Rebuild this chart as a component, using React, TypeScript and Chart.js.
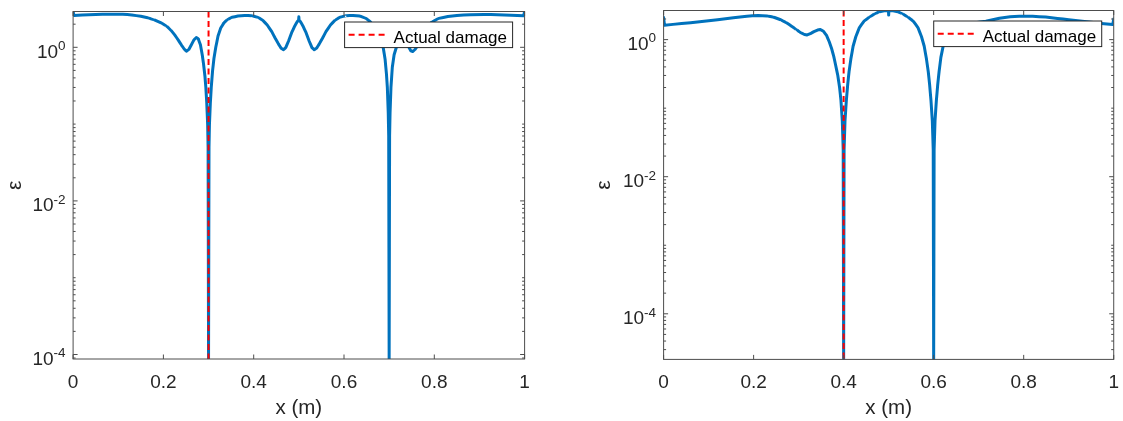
import React, { useEffect, useRef } from 'react';
import { Chart, registerables } from 'chart.js';

Chart.register(...registerables);

// ---------------- data ----------------
const leftX = [
  0, 0.002, 0.02, 0.05, 0.08, 0.11, 0.13, 0.15, 0.165, 0.18, 0.195, 0.207, 0.217, 0.225, 0.233, 0.24,
  0.246, 0.251, 0.256, 0.262, 0.268, 0.273, 0.277, 0.282, 0.286, 0.289, 0.292, 0.294, 0.296, 0.298,
  0.299, 0.3, 0.301, 0.302, 0.304, 0.306, 0.309, 0.312, 0.316, 0.321, 0.327, 0.334,
  0.342, 0.352, 0.365, 0.38, 0.395, 0.41, 0.42, 0.43, 0.44, 0.448, 0.455, 0.461, 0.466, 0.471, 0.477,
  0.484, 0.491, 0.497, 0.4995, 0.5, 0.5005, 0.503, 0.509, 0.516, 0.523, 0.529, 0.534, 0.539, 0.545,
  0.552, 0.56, 0.57, 0.58, 0.59, 0.605, 0.62, 0.635, 0.648, 0.658, 0.667, 0.675, 0.682, 0.687, 0.691,
  0.694, 0.696, 0.698, 0.699, 0.7, 0.701, 0.702, 0.704, 0.707, 0.711, 0.716, 0.722,
  0.729, 0.736, 0.743, 0.748, 0.752, 0.757, 0.763, 0.772, 0.782, 0.795, 0.81, 0.83, 0.85, 0.88, 0.91,
  0.94, 0.97, 0.998, 1,
];
const leftY = [
  2.92, 2.6, 2.63, 2.68, 2.7, 2.69, 2.64, 2.53, 2.42, 2.28, 2.08, 1.89, 1.66, 1.45, 1.24, 1.07,
  0.95, 0.89, 0.93, 1.08, 1.26, 1.34, 1.3, 1.08, 0.8, 0.6, 0.42, 0.3, 0.19, 0.1,
  0.05, 8.74e-5, 0.05, 0.1, 0.19, 0.3, 0.5, 0.72, 1.0, 1.4, 1.78, 2.08,
  2.3, 2.46, 2.55, 2.6, 2.58, 2.45, 2.25, 1.95, 1.6, 1.3, 1.1, 0.97, 0.93, 0.99, 1.2,
  1.55, 1.9, 2.18, 2.25, 2.5, 2.25, 2.18, 1.9, 1.55, 1.2, 0.99, 0.93, 0.97, 1.1,
  1.3, 1.6, 1.95, 2.25, 2.45, 2.58, 2.6, 2.55, 2.4, 2.15, 1.85, 1.5, 1.2, 0.98, 0.7,
  0.45, 0.3, 0.14, 0.07, 8.74e-5, 0.07, 0.14, 0.3, 0.55, 0.8, 1.0, 1.18,
  1.25, 1.2, 1.02, 0.9, 0.88, 0.93, 1.05, 1.4, 1.8, 2.15, 2.38, 2.52, 2.6, 2.66, 2.68,
  2.66, 2.62, 2.58, 2.92,
];

const rightX = [
  0, 0.002, 0.04, 0.08, 0.12, 0.155, 0.185, 0.21, 0.23, 0.245, 0.26, 0.273, 0.285, 0.295, 0.305,
  0.313, 0.319, 0.326, 0.334, 0.342, 0.348, 0.355, 0.362, 0.368, 0.373, 0.378, 0.382, 0.387, 0.391,
  0.394, 0.397, 0.399, 0.4, 0.401, 0.403, 0.406, 0.409, 0.412, 0.416, 0.421, 0.427, 0.435, 0.445,
  0.458, 0.47, 0.48, 0.49, 0.4995, 0.5, 0.5005, 0.51, 0.52, 0.53, 0.542, 0.555, 0.565, 0.573, 0.579,
  0.584, 0.588, 0.591, 0.594, 0.597, 0.599, 0.6, 0.601, 0.603, 0.606, 0.609, 0.612, 0.616, 0.621,
  0.628, 0.638, 0.652, 0.67, 0.69, 0.716, 0.746, 0.77, 0.79, 0.82, 0.849, 0.875, 0.9, 0.93, 0.96,
  0.985, 0.998, 1,
];
const rightY = [
  2.1, 1.62, 1.72, 1.82, 1.95, 2.08, 2.2, 2.25, 2.22, 2.12, 1.95, 1.76, 1.56, 1.4, 1.26,
  1.19, 1.17, 1.22, 1.31, 1.38, 1.4, 1.33, 1.15, 0.93, 0.75, 0.57, 0.43, 0.3, 0.2,
  0.13, 0.065, 0.025, 2.16e-5, 0.025, 0.065, 0.13, 0.22, 0.34, 0.52, 0.8, 1.1, 1.5, 1.85,
  2.15, 2.4, 2.55, 2.63, 2.66, 2.28, 2.66, 2.63, 2.55, 2.4, 2.15, 1.85, 1.5, 1.1, 0.8,
  0.52, 0.34, 0.22, 0.13, 0.065, 0.025, 2.16e-5, 0.025, 0.065, 0.13, 0.22, 0.34, 0.55, 0.8,
  1.05, 1.3, 1.5, 1.65, 1.75, 1.86, 2.05, 2.15, 2.2, 2.19, 2.13, 2.04, 1.95, 1.85, 1.76,
  1.69, 1.66, 2.0,
];

const leftDamageX = 0.3;
const rightDamageX = 0.4;
const leftYLimits = [8.74e-5, 2.925];
const rightYLimits = [2.16e-5, 2.66];
const xTickValues = [0, 0.2, 0.4, 0.6, 0.8, 1];
const yTickValues = [1e-4, 1e-2, 1];
const yTickExponents = ['-4', '-2', '0'];
const legendText = 'Actual damage';
const xTitleText = 'x (m)';
const yTitleText = 'ε';

// ---------------- styling ----------------
const FONT = '"Liberation Sans", Arial, Helvetica, sans-serif';
const TEXT = '#262626';
const AXIS = '#4d4d4d';
const BLUE = '#0072bd';
const RED = '#ff0000';
const H = 421;

type Panel = {
  width: number;
  plotLeft: number;
  plotRight: number;
  plotTop: number;
  plotBottom: number;
  yTitleCenter: number;
};

const leftPanel: Panel = { width: 560, plotLeft: 73.1, plotRight: 524.6, plotTop: 11.5, plotBottom: 359, yTitleCenter: 15 };
const rightPanel: Panel = { width: 563, plotLeft: 103.6, plotRight: 554.7, plotTop: 10.5, plotBottom: 359.4, yTitleCenter: 44 };

const decorPlugin = {
  id: 'matlabDecor',
  afterDraw(chart: any) {
    const { ctx, chartArea: a } = chart;
    const xs = chart.scales.x;
    const ys = chart.scales.y;
    const L = a.left, R = a.right, T = a.top, B = a.bottom;
    ctx.save();
    // box
    ctx.strokeStyle = AXIS;
    ctx.lineWidth = 1;
    ctx.setLineDash([]);
    ctx.strokeRect(L, T, R - L, B - T);
    // ticks
    ctx.beginPath();
    for (const v of xTickValues) {
      const px = xs.getPixelForValue(v);
      ctx.moveTo(px, B); ctx.lineTo(px, B - 4.5);
      ctx.moveTo(px, T); ctx.lineTo(px, T + 4.5);
    }
    const isMajor = (v: number) => yTickValues.some((m) => Math.abs(v - m) / m < 1e-6);
    for (const v of yTickValues) {
      const py = ys.getPixelForValue(v);
      ctx.moveTo(L, py); ctx.lineTo(L + 4.5, py);
      ctx.moveTo(R, py); ctx.lineTo(R - 4.5, py);
    }
    const lo = Math.floor(Math.log10(ys.min));
    const hi = Math.ceil(Math.log10(ys.max));
    for (let n = lo; n <= hi; n++) {
      for (let k = 1; k <= 9; k++) {
        const v = k * Math.pow(10, n);
        if (v < ys.min || v > ys.max || isMajor(v)) continue;
        const py = ys.getPixelForValue(v);
        ctx.moveTo(L, py); ctx.lineTo(L + 2.5, py);
        ctx.moveTo(R, py); ctx.lineTo(R - 2.5, py);
      }
    }
    ctx.stroke();
    // y tick labels 10^n
    ctx.fillStyle = TEXT;
    ctx.textBaseline = 'alphabetic';
    yTickValues.forEach((v, i) => {
      const py = ys.getPixelForValue(v);
      const xr = L - 7.5;
      ctx.font = `13.5px ${FONT}`;
      const ew = ctx.measureText(yTickExponents[i]).width;
      ctx.textAlign = 'left';
      ctx.fillText(yTickExponents[i], xr - ew, py + 2.8);
      ctx.font = `19px ${FONT}`;
      ctx.textAlign = 'right';
      ctx.fillText('10', xr - ew, py + 10.3);
    });
    // legend
    const w = 168, h = 25.6;
    const bx = R - 12 - w, by = T + 10.5;
    ctx.fillStyle = '#ffffff';
    ctx.fillRect(bx, by, w, h);
    ctx.strokeStyle = TEXT;
    ctx.lineWidth = 1;
    ctx.strokeRect(bx, by, w, h);
    ctx.strokeStyle = RED;
    ctx.lineWidth = 2;
    ctx.setLineDash([6, 4]);
    ctx.beginPath();
    ctx.moveTo(bx + 4, by + h / 2);
    ctx.lineTo(bx + 44, by + h / 2);
    ctx.stroke();
    ctx.setLineDash([]);
    ctx.fillStyle = '#000000';
    ctx.font = `17px ${FONT}`;
    ctx.textAlign = 'left';
    ctx.fillText(legendText, bx + 49, by + h / 2 + 7.8);
    ctx.restore();
  },
};

function makeChart(canvas: HTMLCanvasElement, p: Panel, xs: number[], ys: number[], damageX: number, lim: number[]) {
  const curve = xs.map((x, i) => ({ x, y: ys[i] }));
  const damage = [{ x: damageX, y: lim[1] }, { x: damageX, y: lim[0] }];
  return new Chart(canvas, {
    type: 'line',
    data: {
      datasets: [
        { data: damage, borderColor: RED, borderWidth: 2, borderDash: [6, 3.5], pointRadius: 0, fill: false } as any,
        {
          // a negligible tension keeps Chart.js off its pixel-merging fast path, so the sharp dips stay clean
          data: curve, borderColor: BLUE, borderWidth: 3, pointRadius: 0, tension: 1e-6, fill: false,
          borderJoinStyle: 'round', borderCapStyle: 'round',
        } as any,
      ],
    },
    options: {
      animation: false,
      responsive: false,
      events: [],
      layout: { padding: { left: 0, right: p.width - p.plotRight, top: p.plotTop, bottom: 0 } },
      plugins: { legend: { display: false }, tooltip: { enabled: false }, title: { display: false } },
      scales: {
        x: {
          type: 'linear',
          min: 0,
          max: 1,
          grid: { display: false },
          border: { display: false },
          afterBuildTicks: (s: any) => { s.ticks = xTickValues.map((value) => ({ value })); },
          afterFit: (s: any) => { s.height = H - p.plotBottom; },
          ticks: {
            autoSkip: false, maxRotation: 0, minRotation: 0, padding: 4, color: TEXT,
            font: { family: FONT, size: 19, lineHeight: 1.2 },
            callback: (v: any) => String(v),
          },
          title: {
            display: true, text: xTitleText, color: TEXT,
            font: { family: FONT, size: 20.5, lineHeight: 1 }, padding: { top: 0, bottom: 2 },
          },
        },
        y: {
          type: 'logarithmic',
          min: lim[0],
          max: lim[1],
          bounds: 'data',
          grid: { display: false },
          border: { display: false },
          ticks: { display: false },
          afterFit: (s: any) => { s.width = p.plotLeft; },
          title: {
            display: true, text: yTitleText, color: TEXT,
            font: { family: FONT, size: 21, lineHeight: 1 }, padding: { top: p.yTitleCenter - 10.5, bottom: 0 },
          },
        },
      },
    } as any,
    plugins: [decorPlugin],
  });
}

export default function App() {
  const leftRef = useRef<HTMLCanvasElement>(null);
  const rightRef = useRef<HTMLCanvasElement>(null);
  useEffect(() => {
    const c1 = makeChart(leftRef.current!, leftPanel, leftX, leftY, leftDamageX, leftYLimits);
    const c2 = makeChart(rightRef.current!, rightPanel, rightX, rightY, rightDamageX, rightYLimits);
    return () => { c1.destroy(); c2.destroy(); };
  }, []);
  return (
    <div style={{ position: 'fixed', left: 0, top: 0, width: 1123, height: H, background: '#fff' }}>
      <canvas ref={leftRef} width={560} height={H} style={{ position: 'absolute', left: 0, top: 0, width: 560, height: H }} />
      <canvas ref={rightRef} width={563} height={H} style={{ position: 'absolute', left: 560, top: 0, width: 563, height: H }} />
    </div>
  );
}
